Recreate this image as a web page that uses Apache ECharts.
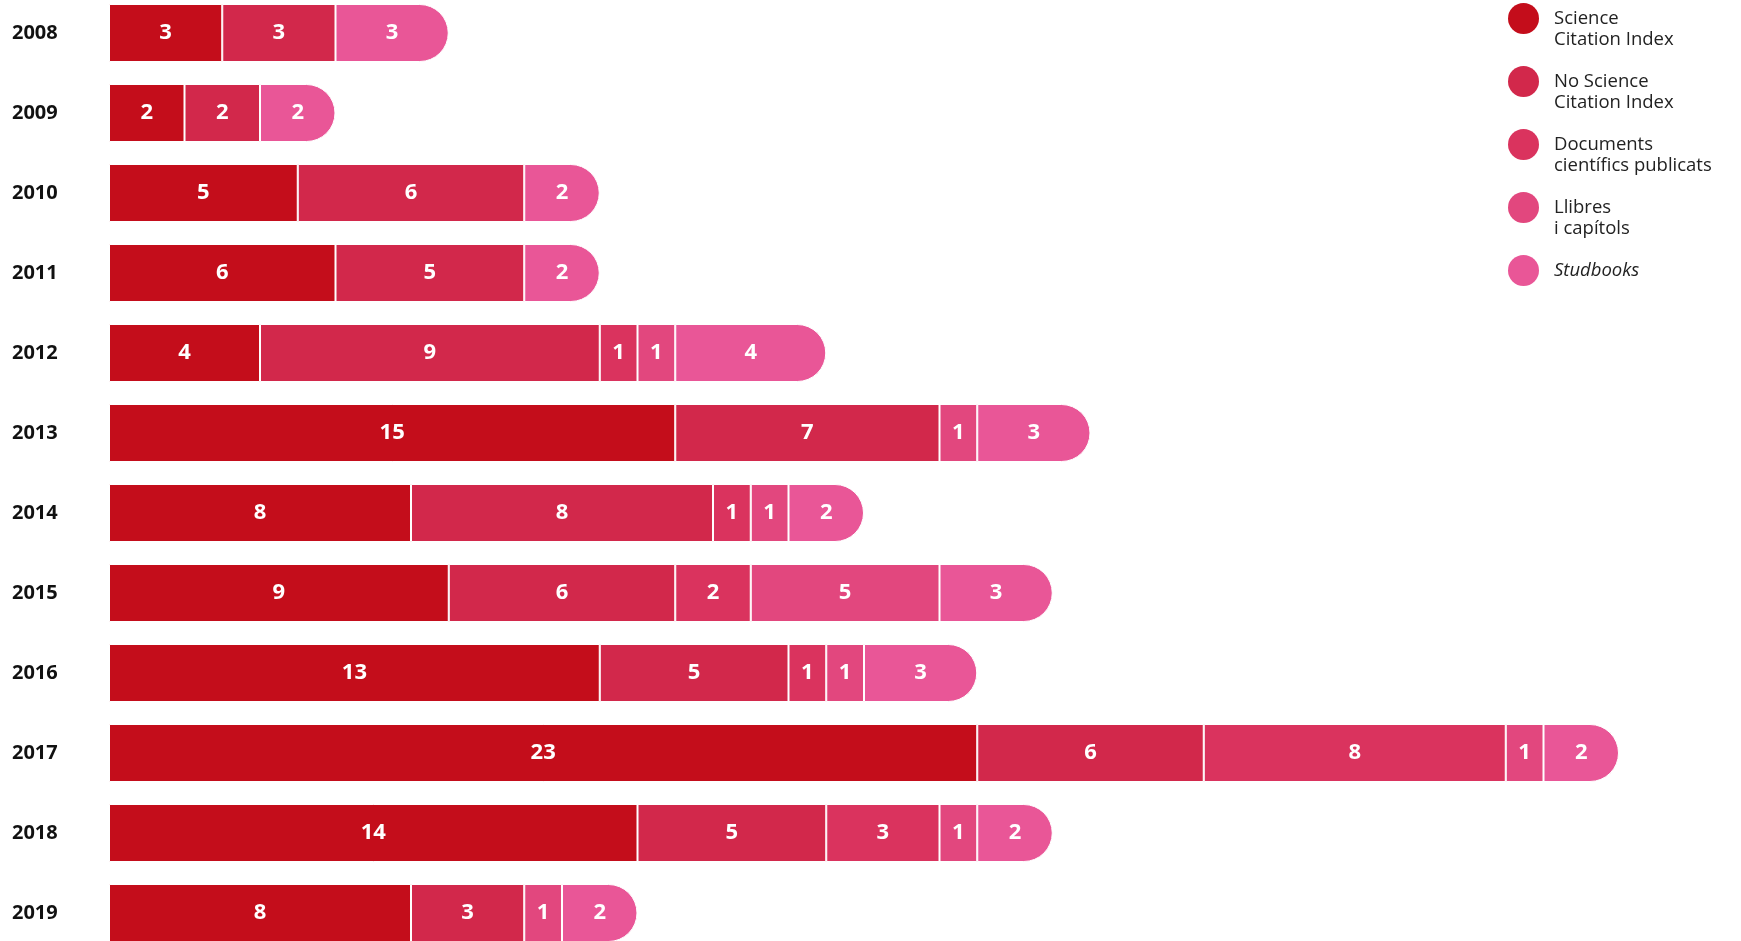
<!DOCTYPE html>
<html>
<head>
<meta charset="utf-8">
<script src="https://cdn.jsdelivr.net/npm/echarts@6/dist/echarts.min.js"></script>
<style>
html,body{margin:0;padding:0;background:#fff;}
#chart{width:1741px;height:941px;}
</style>
</head>
<body>
<div id="chart"></div>
<script>
const years = ['2008','2009','2010','2011','2012','2013','2014','2015','2016','2017','2018','2019'];
const seriesNames = ['Science Citation Index','No Science Citation Index','Documents científics publicats','Llibres i capítols','Studbooks'];
const sci       = [3, 2, 5, 6, 4, 15, 8, 9, 13, 23, 14, 8];
const noSci     = [3, 2, 6, 5, 9, 7, 8, 6, 5, 6, 5, 3];
const docs      = [0, 0, 0, 0, 1, 0, 1, 2, 1, 8, 3, 0];
const llibres   = [0, 0, 0, 0, 1, 1, 1, 5, 1, 1, 1, 1];
const studbooks = [3, 2, 2, 2, 4, 3, 2, 3, 3, 2, 2, 2];

const allValues = [sci, noSci, docs, llibres, studbooks];
const colors = ['#c40d1b', '#d2284b', '#da335e', '#e2477e', '#e95697'];

const legendText = {
  'Science Citation Index': '\nScience\nCitation Index',
  'No Science Citation Index': '\nNo Science\nCitation Index',
  'Documents científics publicats': '\nDocuments\ncientífics publicats',
  'Llibres i capítols': '\nLlibres\ni capítols',
  'Studbooks': '\n{i|Studbooks}\n'
};

// last non-zero series per year gets the rounded cap
const lastIdx = years.map((y, j) => {
  let last = 0;
  allValues.forEach((arr, i) => { if (arr[j] > 0) last = i; });
  return last;
});

const series = allValues.map((arr, i) => ({
  name: seriesNames[i],
  type: 'bar',
  stack: 'total',
  barWidth: 58,
  itemStyle: { color: colors[i], borderColor: '#ffffff', borderWidth: 1 },
  label: {
    show: true,
    position: 'inside',
    color: '#ffffff',
    fontFamily: 'Open Sans',
    fontWeight: 'bold',
    fontSize: 22
  },
  emphasis: { disabled: true },
  data: arr.map((v, j) => v === 0 ? '-' : (lastIdx[j] === i
    ? { value: v, itemStyle: { borderRadius: [0, 29, 29, 0] } }
    : v))
}));

const chart = echarts.init(document.getElementById('chart'));
chart.setOption({
  backgroundColor: '#ffffff',
  animation: false,
  color: colors,
  grid: { left: 109, top: 33, width: 1510, height: 880, containLabel: false },
  xAxis: {
    type: 'value', min: 0, max: 40,
    show: false
  },
  yAxis: {
    type: 'category',
    data: years,
    inverse: true,
    boundaryGap: false,
    axisLine: { show: false },
    axisTick: { show: false },
    splitLine: { show: false },
    axisLabel: {
      align: 'left',
      margin: 97,
      color: '#111111',
      fontFamily: 'Open Sans',
      fontWeight: 'bold',
      fontSize: 20
    }
  },
  legend: {
    orient: 'vertical',
    left: 1508,
    top: -13,
    padding: 0,
    itemGap: 0,
    itemWidth: 31,
    itemHeight: 31,
    itemStyle: { borderWidth: 0 },
    icon: 'circle',
    selectedMode: false,
    data: seriesNames,
    formatter: name => legendText[name],
    textStyle: {
      fontFamily: 'Open Sans',
      fontSize: 18.5,
      lineHeight: 21,
      color: '#222222',
      padding: [0, 0, 0, 10],
      rich: {
        i: { fontFamily: 'Open Sans', fontSize: 18.5, lineHeight: 21, fontStyle: 'italic', color: '#222222' }
      }
    }
  },
  series: series
});
</script>
</body>
</html>
